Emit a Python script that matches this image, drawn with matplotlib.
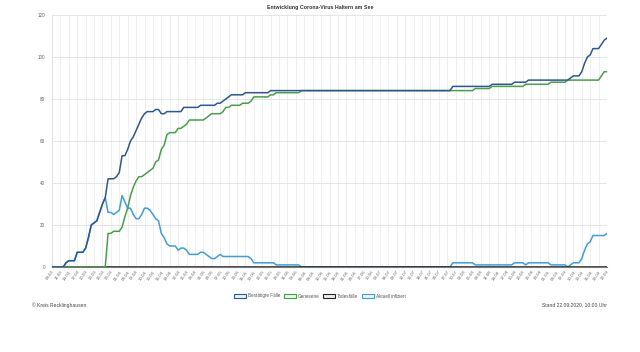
import matplotlib
matplotlib.use('Agg')
import matplotlib.pyplot as plt
from matplotlib.patches import Patch
import pandas as pd

plt.rcParams['font.family'] = ['Liberation Sans', 'DejaVu Sans']

title = "Entwicklung Corona-Virus Haltern am See"
dates = pd.date_range('2020-03-08', '2020-09-22', freq='D')
date_labels = [d.strftime('%d.%m') for d in dates]

series_names = ["Bestätigte Fälle", "Genesene", "Todesfälle", "Aktuell infiziert"]

confirmed = [
    0, 0, 0, 0, 0, 2, 3, 3, 3, 7, 7, 7, 9, 14, 20, 21, 22, 26, 30, 33,
    42, 42, 42, 43, 45, 53, 53, 56, 60, 62, 65, 68, 71, 73, 74, 74, 74, 75, 75, 73,
    73, 74, 74, 74, 74, 74, 74, 76, 76, 76, 76, 76, 76, 77, 77, 77, 77, 77, 77, 78,
    78, 79, 80, 81, 82, 82, 82, 82, 82, 83, 83, 83, 83, 83, 83, 83, 83, 83, 84, 84,
    84, 84, 84, 84, 84, 84, 84, 84, 84, 84, 84, 84, 84, 84, 84, 84, 84, 84, 84, 84,
    84, 84, 84, 84, 84, 84, 84, 84, 84, 84, 84, 84, 84, 84, 84, 84, 84, 84, 84, 84,
    84, 84, 84, 84, 84, 84, 84, 84, 84, 84, 84, 84, 84, 84, 84, 84, 84, 84, 84, 84,
    84, 84, 84, 86, 86, 86, 86, 86, 86, 86, 86, 86, 86, 86, 86, 86, 86, 87, 87, 87,
    87, 87, 87, 87, 87, 88, 88, 88, 88, 88, 89, 89, 89, 89, 89, 89, 89, 89, 89, 89,
    89, 89, 89, 89, 89, 90, 91, 91, 91, 93, 97, 100, 101, 104, 104, 104, 106, 108, 109,
]

recovered = [
    0, 0, 0, 0, 0, 0, 0, 0, 0, 0, 0, 0, 0, 0, 0, 0, 0, 0, 0, 0,
    16, 16, 17, 17, 17, 19, 24, 28, 34, 38, 41, 43, 43, 44, 45, 46, 47, 50, 51, 56,
    58, 63, 64, 64, 64, 66, 66, 67, 68, 70, 70, 70, 70, 70, 70, 71, 72, 73, 73, 73,
    73, 74, 76, 76, 77, 77, 77, 77, 78, 78, 78, 79, 81, 81, 81, 81, 81, 81, 82, 82,
    83, 83, 83, 83, 83, 83, 83, 83, 83, 84, 84, 84, 84, 84, 84, 84, 84, 84, 84, 84,
    84, 84, 84, 84, 84, 84, 84, 84, 84, 84, 84, 84, 84, 84, 84, 84, 84, 84, 84, 84,
    84, 84, 84, 84, 84, 84, 84, 84, 84, 84, 84, 84, 84, 84, 84, 84, 84, 84, 84, 84,
    84, 84, 84, 84, 84, 84, 84, 84, 84, 84, 84, 85, 85, 85, 85, 85, 85, 86, 86, 86,
    86, 86, 86, 86, 86, 86, 86, 86, 86, 87, 87, 87, 87, 87, 87, 87, 87, 87, 88, 88,
    88, 88, 88, 88, 89, 89, 89, 89, 89, 89, 89, 89, 89, 89, 89, 89, 91, 93, 93,
]

deaths = [0] * 199

active = [
    0, 0, 0, 0, 0, 2, 3, 3, 3, 7, 7, 7, 9, 14, 20, 21, 22, 26, 30, 33,
    26, 26, 25, 26, 27, 34, 31, 28, 28, 25, 23, 23, 25, 28, 28, 27, 25, 23, 22, 16,
    14, 11, 10, 10, 10, 8, 9, 9, 8, 6, 6, 6, 6, 7, 7, 6, 5, 4, 4, 5,
    6, 5, 5, 5, 5, 5, 5, 5, 5, 5, 5, 4, 2, 2, 2, 2, 2, 2, 2, 2,
    1, 1, 1, 1, 1, 1, 1, 1, 1, 0, 0, 0, 0, 0, 0, 0, 0, 0, 0, 0,
    0, 0, 0, 0, 0, 0, 0, 0, 0, 0, 0, 0, 0, 0, 0, 0, 0, 0, 0, 0,
    0, 0, 0, 0, 0, 0, 0, 0, 0, 0, 0, 0, 0, 0, 0, 0, 0, 0, 0, 0,
    0, 0, 0, 2, 2, 2, 2, 2, 2, 2, 2, 1, 1, 1, 1, 1, 1, 1, 1, 1,
    1, 1, 1, 1, 1, 2, 2, 2, 2, 1, 2, 2, 2, 2, 2, 2, 2, 2, 1, 1,
    1, 1, 1, 1, 0, 1, 2, 2, 2, 4, 8, 11, 12, 15, 15, 15, 15, 15, 16,
]

y_ticks = [0, 20, 40, 60, 80, 100, 120]
footer_left = "© Kreis Recklinghausen"
footer_right = "Stand 22.09.2020, 10:00 Uhr"

colors = ["#2b5797", "#45a048", "#222222", "#3b9fe0"]
fills = ["#eef2f8", "#eef7ee", "#eeeeee", "#eef6fc"]

fig = plt.figure(figsize=(6.4, 3.52), dpi=100)
ax = fig.add_axes([52/640, 1-267/352, 555/640, 252/352])

x = list(range(len(dates)))
data = [confirmed, recovered, deaths, active]
for i, (name, vals, c) in enumerate(zip(series_names, data, colors)):
    ax.plot(x, vals, color=c, lw=1.1, zorder=10-i, solid_joinstyle='round')

ax.set_xlim(0, len(dates)-1)
ax.set_ylim(0, 120)
ax.set_yticks(y_ticks)
ax.set_yticklabels([str(v) for v in y_ticks])
tick_idx = list(range(0, len(dates), 3))
ax.set_xticks(tick_idx)
ax.set_xticklabels([date_labels[i] for i in tick_idx], rotation=55, ha='right',
                   rotation_mode='anchor')
ax.tick_params(axis='x', labelsize=3.2, colors='#666666', length=0, pad=2)
ax.tick_params(axis='y', labelsize=3.3, colors='#666666', length=0, pad=5)
ax.grid(axis='x', color='#ececec', lw=0.6)
ax.grid(axis='y', color='#e0e0e0', lw=0.6)
ax.set_axisbelow(True)
for s in ['top', 'right']:
    ax.spines[s].set_visible(False)
ax.spines['left'].set_color('#e0e0e0')
ax.spines['left'].set_linewidth(0.6)
ax.spines['bottom'].set_color('#777777')
ax.spines['bottom'].set_linewidth(0.8)

fig.text(0.5, 1-8/352, title, ha='center', va='center', fontsize=3.8,
         fontweight='bold', color='#333333')

handles = [Patch(facecolor=f, edgecolor=c, linewidth=0.8) for c, f in zip(colors, fills)]
fig.legend(handles, series_names, loc='center', bbox_to_anchor=(0.5, 1-296/352),
           ncol=4, frameon=False, fontsize=3.3, handlelength=2.6, handleheight=0.9,
           handletextpad=0.4, columnspacing=0.8, labelcolor='#555555')

fig.text(32/640, 1-305/352, footer_left, ha='left', va='center', fontsize=3.6, color='#444444')
fig.text(607/640, 1-305/352, footer_right, ha='right', va='center', fontsize=3.6, color='#444444')

fig.savefig('out.png', dpi=100, facecolor='white')
